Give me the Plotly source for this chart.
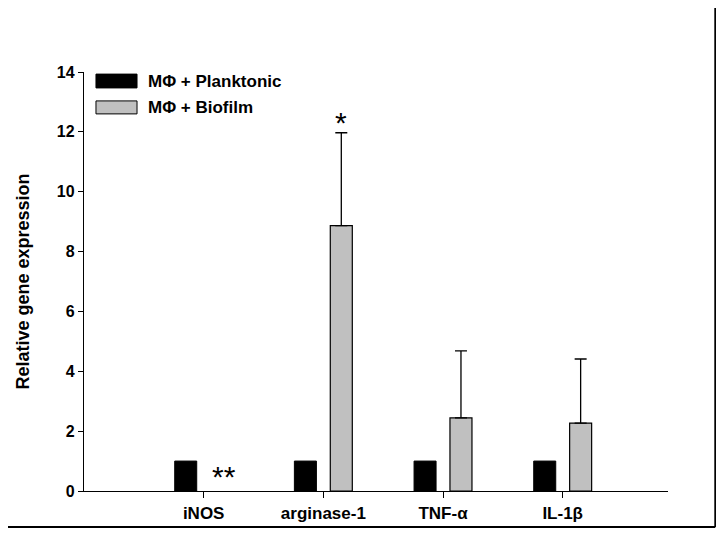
import plotly.graph_objects as go

# data
genes = ['iNOS', 'arginase-1', 'TNF-α', 'IL-1β']
planktonic = [1.0, 1.0, 1.0, 1.0]
biofilm = [None, 8.87, 2.44, 2.27]   # iNOS not detected (**)
biofilm_err = [None, 3.10, 2.24, 2.14]
err_minus = [0, 0, 0, 0]

FONT = 'Arial, Liberation Sans, sans-serif'

fig = go.Figure()

fig.add_trace(go.Bar(
    x=genes, y=planktonic,
    name='MΦ + Planktonic',
    marker=dict(color='black', line=dict(color='black', width=1)),
    showlegend=False
))

fig.add_trace(go.Bar(
    x=genes, y=biofilm,
    name='MΦ + Biofilm',
    marker=dict(color='#c0c0c0', line=dict(color='black', width=1.2)),
    error_y=dict(type='data', symmetric=False, array=biofilm_err,
                 arrayminus=err_minus, color='black', thickness=1.3, width=6),
    showlegend=False
))

# legend drawn by hand (wide swatches like the original)
fig.add_shape(type='rect', xref='paper', yref='paper',
              x0=0.0205, x1=0.0908, y0=0.962, y1=0.995,
              fillcolor='black', line=dict(color='black', width=1))
fig.add_shape(type='rect', xref='paper', yref='paper',
              x0=0.0205, x1=0.0908, y0=0.900, y1=0.931,
              fillcolor='#c0c0c0', line=dict(color='black', width=1))
fig.add_annotation(text='<b>MΦ + Planktonic</b>', xref='paper', yref='paper',
                   x=0.106, y=0.978, xanchor='left', yanchor='middle',
                   showarrow=False, font=dict(family=FONT, size=17, color='black'))
fig.add_annotation(text='<b>MΦ + Biofilm</b>', xref='paper', yref='paper',
                   x=0.106, y=0.916, xanchor='left', yanchor='middle',
                   showarrow=False, font=dict(family=FONT, size=17, color='black'))

# significance marks
fig.add_annotation(text='*', x=1, y=biofilm[1] + biofilm_err[1], xshift=18,
                   yanchor='bottom', yshift=-8, showarrow=False,
                   font=dict(family=FONT, size=30, color='black'))
fig.add_annotation(text='**', x=0, y=0, xshift=20, yanchor='bottom', yshift=-4,
                   showarrow=False, font=dict(family=FONT, size=30, color='black'))

# frame lines on the right and bottom of the image
fig.add_shape(type='line', xref='paper', yref='paper',
              x0=1.081, x1=1.081, y0=-0.0859, y1=1.16,
              line=dict(color='black', width=2))
fig.add_shape(type='line', xref='paper', yref='paper',
              x0=-0.1318, x1=1.081, y0=-0.0859, y1=-0.0859,
              line=dict(color='black', width=2))

# page body has an 8px margin, so the figure is sized to fit inside it
fig.update_layout(
    width=716, height=526,
    margin=dict(l=76, r=56, t=64, b=43),
    plot_bgcolor='white', paper_bgcolor='white',
    barmode='group', bargap=0.4, bargroupgap=0.387,
    font=dict(family=FONT, color='black'),
)

fig.update_xaxes(
    range=[-1.0, 3.88], showline=True, linecolor='black', linewidth=1.3,
    ticks='outside', ticklen=6, tickcolor='black', tickwidth=1.3,
    tickfont=dict(family=FONT, size=17), showgrid=False, zeroline=False,
    tickprefix='<b>', ticksuffix='</b>'
)
fig.update_yaxes(
    range=[0, 14], dtick=2, showline=True, linecolor='black', linewidth=1.3,
    ticks='outside', ticklen=5, tickcolor='black', tickwidth=1.3,
    tickfont=dict(family=FONT, size=16), showgrid=False, zeroline=False,
    tickprefix='<b>', ticksuffix='</b>',
    title=dict(text='<b>Relative gene expression</b>', font=dict(family=FONT, size=18),
               standoff=22)
)

fig.write_html('out.html')
